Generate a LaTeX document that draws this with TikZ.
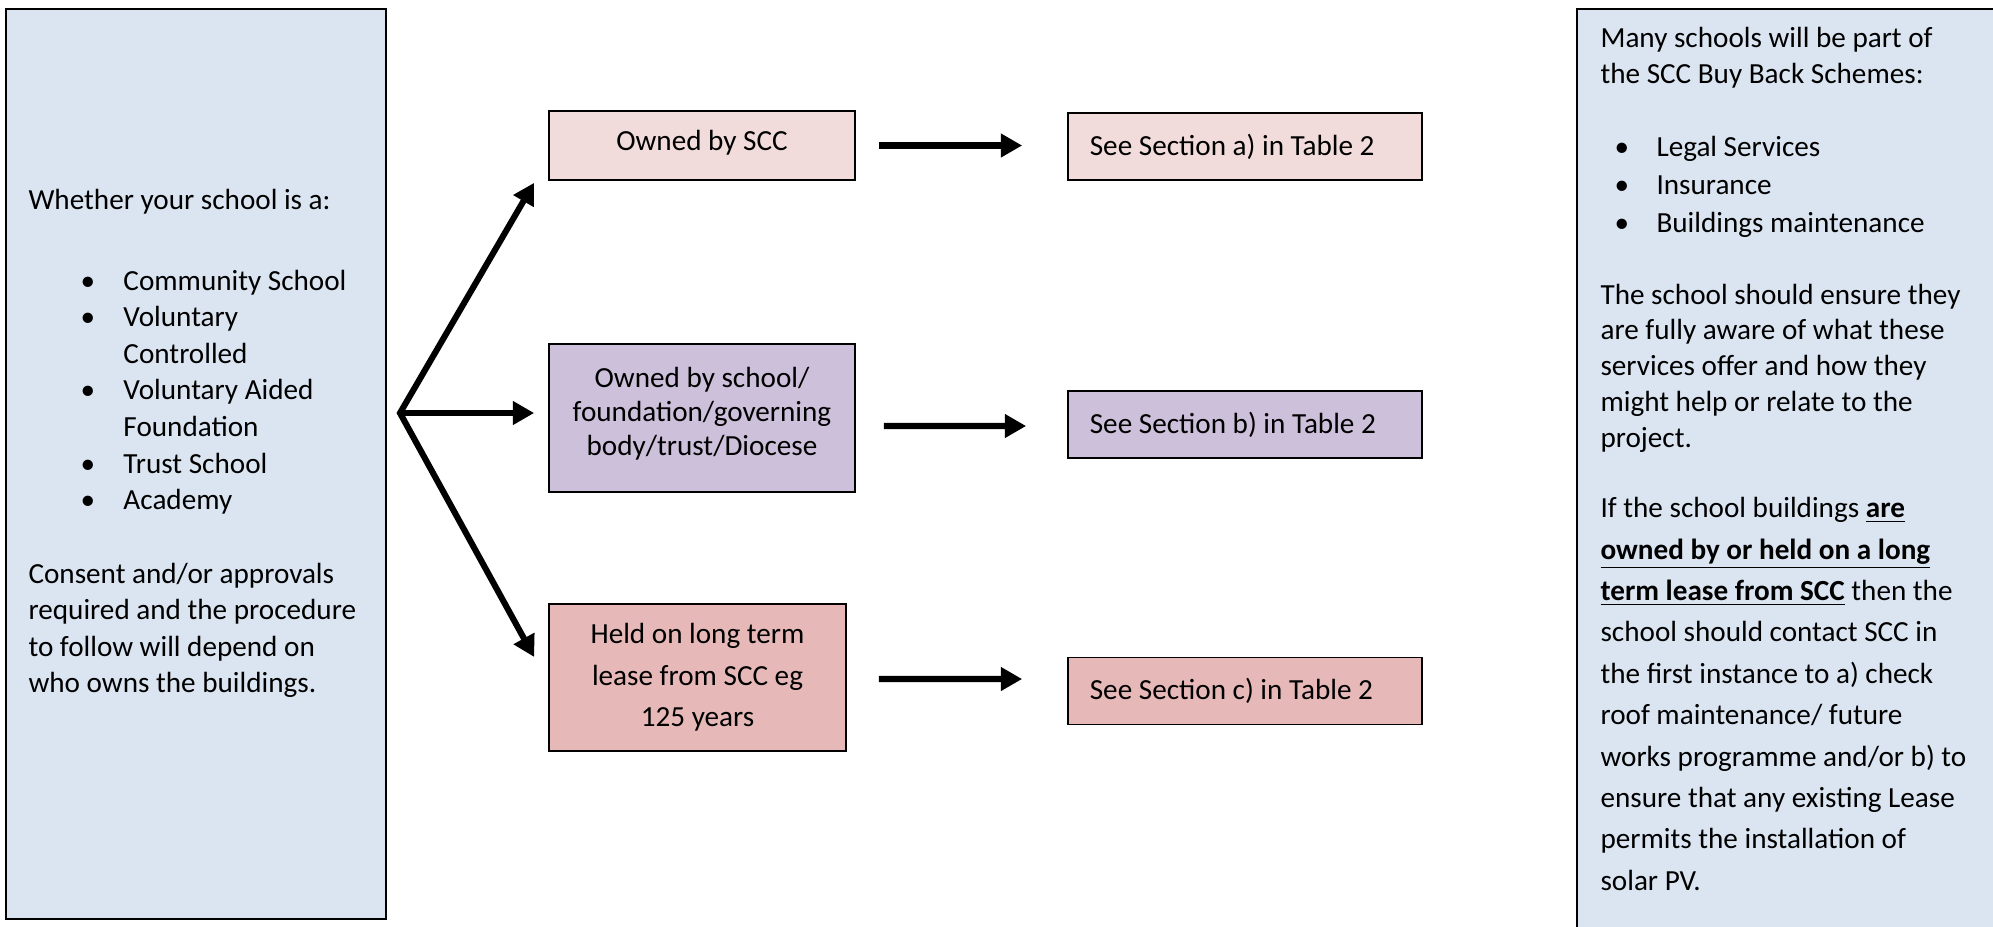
\documentclass[tikz,border=0pt]{standalone}
\usepackage{fontspec}
\setmainfont{Carlito}
\usetikzlibrary{arrows.meta, calc, positioning}

\definecolor{paleblue}{HTML}{DBE5F1}
\definecolor{palepink}{HTML}{F2DCDB}
\definecolor{lilac}{HTML}{CCC0DA}
\definecolor{rose}{HTML}{E6B9B8}

\newcommand{\lbul}{\hspace*{19.6pt}\makebox[16.2pt][l]{•}}
\newcommand{\lind}{\hspace*{35.8pt}}
\newcommand{\rbul}{\hspace*{5.3pt}\makebox[15.8pt][l]{•}}
\newcommand{\ubf}[1]{\underline{\textbf{#1}}}

\tikzset{
  txt/.style={font=\fontsize{11}{13.6}\selectfont, inner sep=0pt, align=left, anchor=north west},
  big/.style={draw, fill=paleblue, line width=0.6pt, inner sep=0pt},
  own/.style={draw, line width=0.6pt, font=\fontsize{11}{13}\selectfont, align=center, inner sep=0pt},
  owntxt/.style={font=\fontsize{11}{12.75}\selectfont, align=center, inner sep=0pt},
  sect/.style={draw, line width=0.6pt, font=\fontsize{11}{13.4}\selectfont, minimum width=133.5pt,
    minimum height=25.3pt, text width=117pt, align=flush left, inner xsep=8pt, inner ysep=0pt},
  fat/.style={line width=2.3pt, line join=miter},
}

\begin{document}
\begin{tikzpicture}[x=0.377pt, y=-0.377pt, >={Triangle[length=8pt,width=8.5pt]}]
\useasboundingbox (0,0) rectangle (1993,926);

\node[big, minimum width=143.3pt, minimum height=343pt] (kinds) at (196,464) {};
\node[big, minimum width=163.2pt, minimum height=351pt] (schemes) at (1793.5,474.5) {};

\node[txt, font=\fontsize{11}{13.8}\selectfont] (kindstxt) at (28,189) {Whether your school is a:\\[16.5pt]
  \lbul Community School\\ \lbul Voluntary\\ \lind Controlled\\
  \lbul Voluntary Aided\\ \lind Foundation\\ \lbul Trust School\\ \lbul Academy\\[13.8pt]
  Consent and/or approvals\\ required and the procedure\\ to follow will depend on\\ who owns the buildings.};

\node[txt, font=\fontsize{11}{13.5}\selectfont] (schemestxt) at (1600,27) {Many schools will be part of\\
  the SCC Buy Back Schemes:\\[14pt]
  \rbul Legal Services\\[0.8pt] \rbul Insurance\\[0.8pt] \rbul Buildings maintenance\\[13.5pt]
  The school should ensure they\\ are fully aware of what these\\ services offer and how they\\
  might help or relate to the\\ project.};
\node[txt, font=\fontsize{11}{15.6}\selectfont] (leasetxt) at (1600,497) {If the school buildings \ubf{are}\\
  \ubf{owned by or held on a long}\\ \ubf{term lease from SCC} then the\\
  school should contact SCC in\\ the first instance to a) check\\ roof maintenance/ future\\
  works programme and/or b) to\\ ensure that any existing Lease\\ permits the installation of\\ solar PV.};

\node[own, fill=palepink, minimum width=115.4pt, minimum height=26pt] (scc) at (702,145.5) {};
\node[owntxt] (scctxt) at ($(scc)+(0,-3)$) {Owned by SCC};
\node[own, fill=lilac, minimum width=115.4pt, minimum height=55.8pt] (body) at (702,418) {};
\node[owntxt] (bodytxt) at ($(body)+(0,-4.5)$) {Owned by school/\\foundation/governing\\body/trust/Diocese};
\node[own, fill=rose, minimum width=112pt, minimum height=55.4pt, font=\fontsize{11}{15.6}\selectfont] (lease) at (697.5,677.5)
  {Held on long term\\lease from SCC eg\\125 years};

\node[sect, fill=palepink] (seca) at (1245,146.5) {See Section a) in Table 2};
\node[sect, fill=lilac] (secb) at (1245,424.5) {See Section b) in Table 2};
\node[sect, fill=rose] (secc) at (1245,691) {See Section c) in Table 2};

\coordinate (fork) at (400,413);
\draw[fat, <->] ($(scc.south west)+(-14,2)$) -- (fork) -- ($(lease.west)+(-14,-20.5)$);
\draw[fat, ->] (fork) -- ($(body.west)+(-14,-5)$);

\draw[fat, ->] ($(scc.east)+(23,0)$) -- ($(seca.west)+(-45,-1)$);
\draw[fat, ->] ($(body.east)+(28,8)$) -- ($(secb.west)+(-41,1.5)$);
\draw[fat, ->] ($(lease.east)+(32,1.5)$) -- ($(secc.west)+(-45,-12)$);
\end{tikzpicture}
\end{document}
